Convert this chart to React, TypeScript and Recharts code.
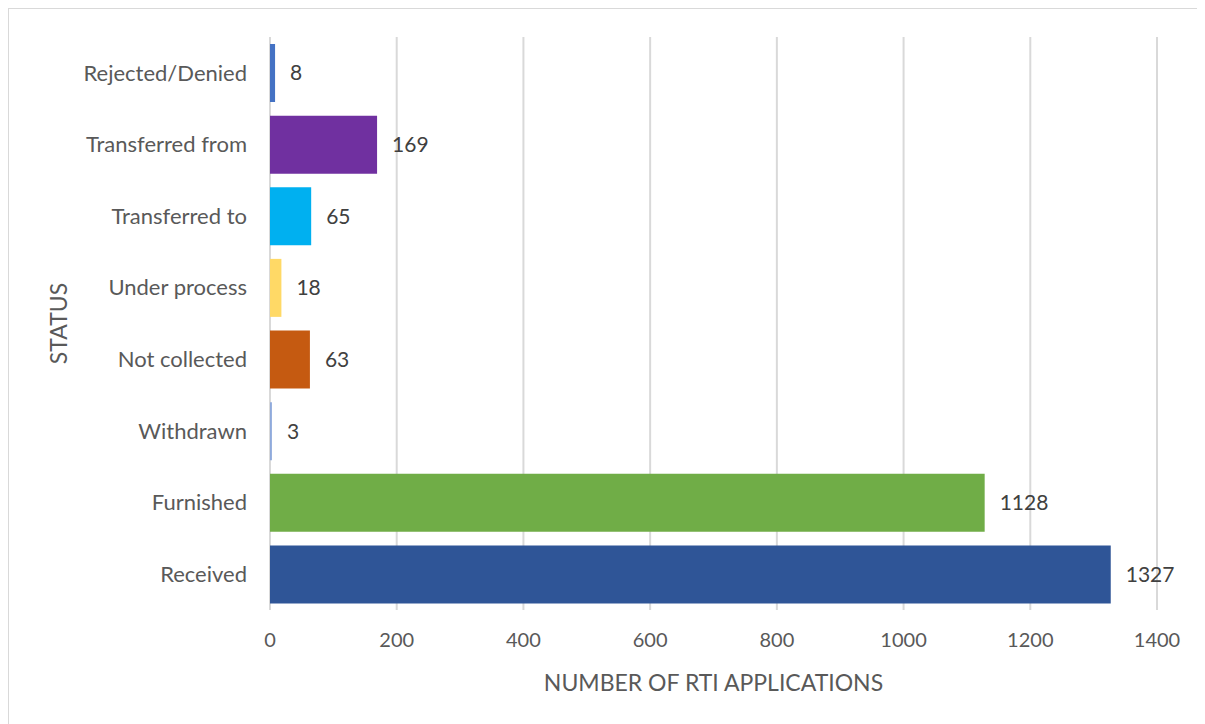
import React from "react";
import { BarChart, Bar, XAxis, YAxis, CartesianGrid, Cell, LabelList, Label } from "recharts";

const categories = [
  "Rejected/Denied",
  "Transferred from",
  "Transferred to",
  "Under process",
  "Not collected",
  "Withdrawn",
  "Furnished",
  "Received",
];
const values = [8, 169, 65, 18, 63, 3, 1128, 1327];
const colors = ["#4472c4", "#7030a0", "#00b0f0", "#ffd966", "#c55a11", "#8faadc", "#70ad47", "#2f5597"];
const xTicks = [0, 200, 400, 600, 800, 1000, 1200, 1400];

const data = categories.map((name, i) => ({ name, value: values[i] }));

const FONT = "Lato, 'Open Sans', sans-serif";

export default function App() {
  return (
    <div
      style={{
        width: 1196,
        height: 716,
        borderTop: "1px solid #d9d9d9",
        borderLeft: "1px solid #d9d9d9",
        borderBottom: "1px solid #d9d9d9",
        fontFamily: FONT,
        background: "#fff",
      }}
    >
      <BarChart
        width={1192}
        height={712}
        data={data}
        layout="vertical"
        margin={{ top: 28, right: 44, bottom: 0, left: 0 }}
      >
        <CartesianGrid horizontal={false} stroke="#d9d9d9" strokeWidth={2} />
        <XAxis
          type="number"
          domain={[0, 1400]}
          ticks={xTicks}
          axisLine={false}
          tickLine={false}
          tickMargin={17}
          height={111}
          tick={{ fill: "#595959", fontSize: 20, fontFamily: FONT }}
        >
          <Label
            value="NUMBER OF RTI APPLICATIONS"
            position="insideBottom"
            offset={30}
            style={{ fill: "#595959", fontSize: 23, fontFamily: FONT }}
          />
        </XAxis>
        <YAxis
          type="category"
          dataKey="name"
          width={261}
          axisLine={false}
          tickLine={false}
          tickMargin={17}
          tick={{ fill: "#595959", fontSize: 22, fontFamily: FONT }}
        >
          <Label
            value="STATUS"
            angle={-90}
            position="insideLeft"
            offset={50}
            style={{ fill: "#595959", fontSize: 23, fontFamily: FONT, textAnchor: "middle" }}
          />
        </YAxis>
        <Bar dataKey="value" barSize={58} isAnimationActive={false}>
          {data.map((d, i) => (
            <Cell key={d.name} fill={colors[i]} />
          ))}
          <LabelList
            dataKey="value"
            position="right"
            offset={15}
            style={{ fill: "#404040", fontSize: 21, fontFamily: FONT }}
          />
        </Bar>
      </BarChart>
    </div>
  );
}
